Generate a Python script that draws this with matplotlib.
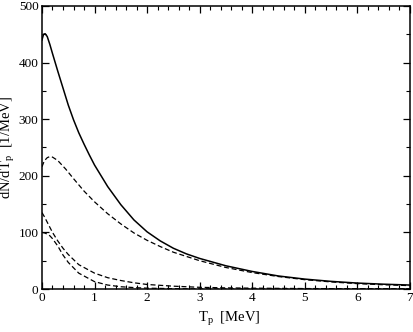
import matplotlib
matplotlib.use('Agg')
import matplotlib.pyplot as plt
from matplotlib.ticker import MultipleLocator

plt.rcParams['font.family'] = 'Liberation Serif'
plt.rcParams['mathtext.fontset'] = 'custom'
plt.rcParams['mathtext.rm'] = 'Liberation Serif'
plt.rcParams['mathtext.it'] = 'Liberation Serif:italic'

# solid curve (total)
t_solid = [0.0, 0.03, 0.06, 0.1, 0.15, 0.2, 0.3, 0.4, 0.5, 0.6, 0.7, 0.8, 0.9, 1.0,
           1.25, 1.5, 1.75, 2.0, 2.25, 2.5, 2.75, 3.0, 3.5, 4.0, 4.5, 5.0, 5.5, 6.0, 6.5, 7.0]
y_solid = [440, 450, 451, 446, 432, 416, 385, 355, 325, 299, 276, 256, 237, 219,
           181, 149, 122, 101, 85, 72, 62, 54, 41, 31, 23, 17.5, 13.5, 10.5, 8.5, 7]

# upper dashed
t_dash1 = [0.0, 0.03, 0.06, 0.1, 0.15, 0.2, 0.3, 0.45, 0.6, 0.8, 1.0, 1.25, 1.5,
           1.75, 2.0, 2.25, 2.5, 3.0, 3.5, 4.0, 4.5, 5.0, 5.5, 6.0, 6.5, 7.0]
y_dash1 = [216, 223, 228, 232, 234, 233, 227, 212, 195, 173, 154, 133, 115,
           99, 86, 75, 65, 50, 38, 29, 22, 16.5, 12.5, 9.5, 7.5, 6]

# lower dashed (starts ~135)
t_dash2 = [0.0, 0.05, 0.1, 0.2, 0.3, 0.4, 0.5, 0.7, 1.0, 1.25, 1.5, 1.75, 2.0,
           2.5, 3.0, 3.5, 4.0, 5.0, 6.0, 7.0]
y_dash2 = [135, 127, 118, 100, 85, 72, 61, 43, 28, 20, 15, 11, 8,
           5, 3, 2, 1.5, 0.8, 0.5, 0.3]

# lower dashed (starts ~100)
t_dash3 = [0.0, 0.05, 0.1, 0.15, 0.2, 0.3, 0.4, 0.5, 0.7, 1.0, 1.25, 1.5, 1.75,
           2.0, 2.5, 3.0, 4.0, 5.0, 6.0, 7.0]
y_dash3 = [100, 99, 97, 94, 89, 76, 60, 47, 28, 13, 7, 4, 2.5,
           1.5, 0.6, 0.2, 0.0, 0.0, 0.0, 0.0]

fig = plt.figure(figsize=(4.14, 3.32), dpi=100)
ax = fig.add_axes([0.1014, 0.1295, 0.8886, 0.8525])

ax.plot(t_solid, y_solid, color='black', lw=1.1)
for t, y in [(t_dash1, y_dash1), (t_dash2, y_dash2), (t_dash3, y_dash3)]:
    ax.plot(t, y, color='black', lw=0.9, dashes=(4, 2.2))

ax.set_xlim(0, 7)
ax.set_ylim(0, 500)
ax.xaxis.set_major_locator(MultipleLocator(1))
ax.xaxis.set_minor_locator(MultipleLocator(0.2))
ax.yaxis.set_major_locator(MultipleLocator(100))
ax.yaxis.set_minor_locator(MultipleLocator(50))
ax.tick_params(which='both', direction='in', top=True, right=True, labelsize=9.5, pad=2.5)
ax.tick_params(which='major', length=5, width=0.9)
ax.tick_params(which='minor', length=2.8, width=0.8)
for s in ax.spines.values():
    s.set_linewidth(1.1)

ax.set_xlabel(r'T$_{\rm p}$  [MeV]', fontsize=10.5)
ax.set_ylabel(r'dN/dT$_{\rm p}$  [1/MeV]', fontsize=10.5)
ax.xaxis.set_label_coords(0.51, -0.075)
ax.yaxis.set_label_coords(-0.068, 0.5)

fig.savefig('out.png', dpi=100)
